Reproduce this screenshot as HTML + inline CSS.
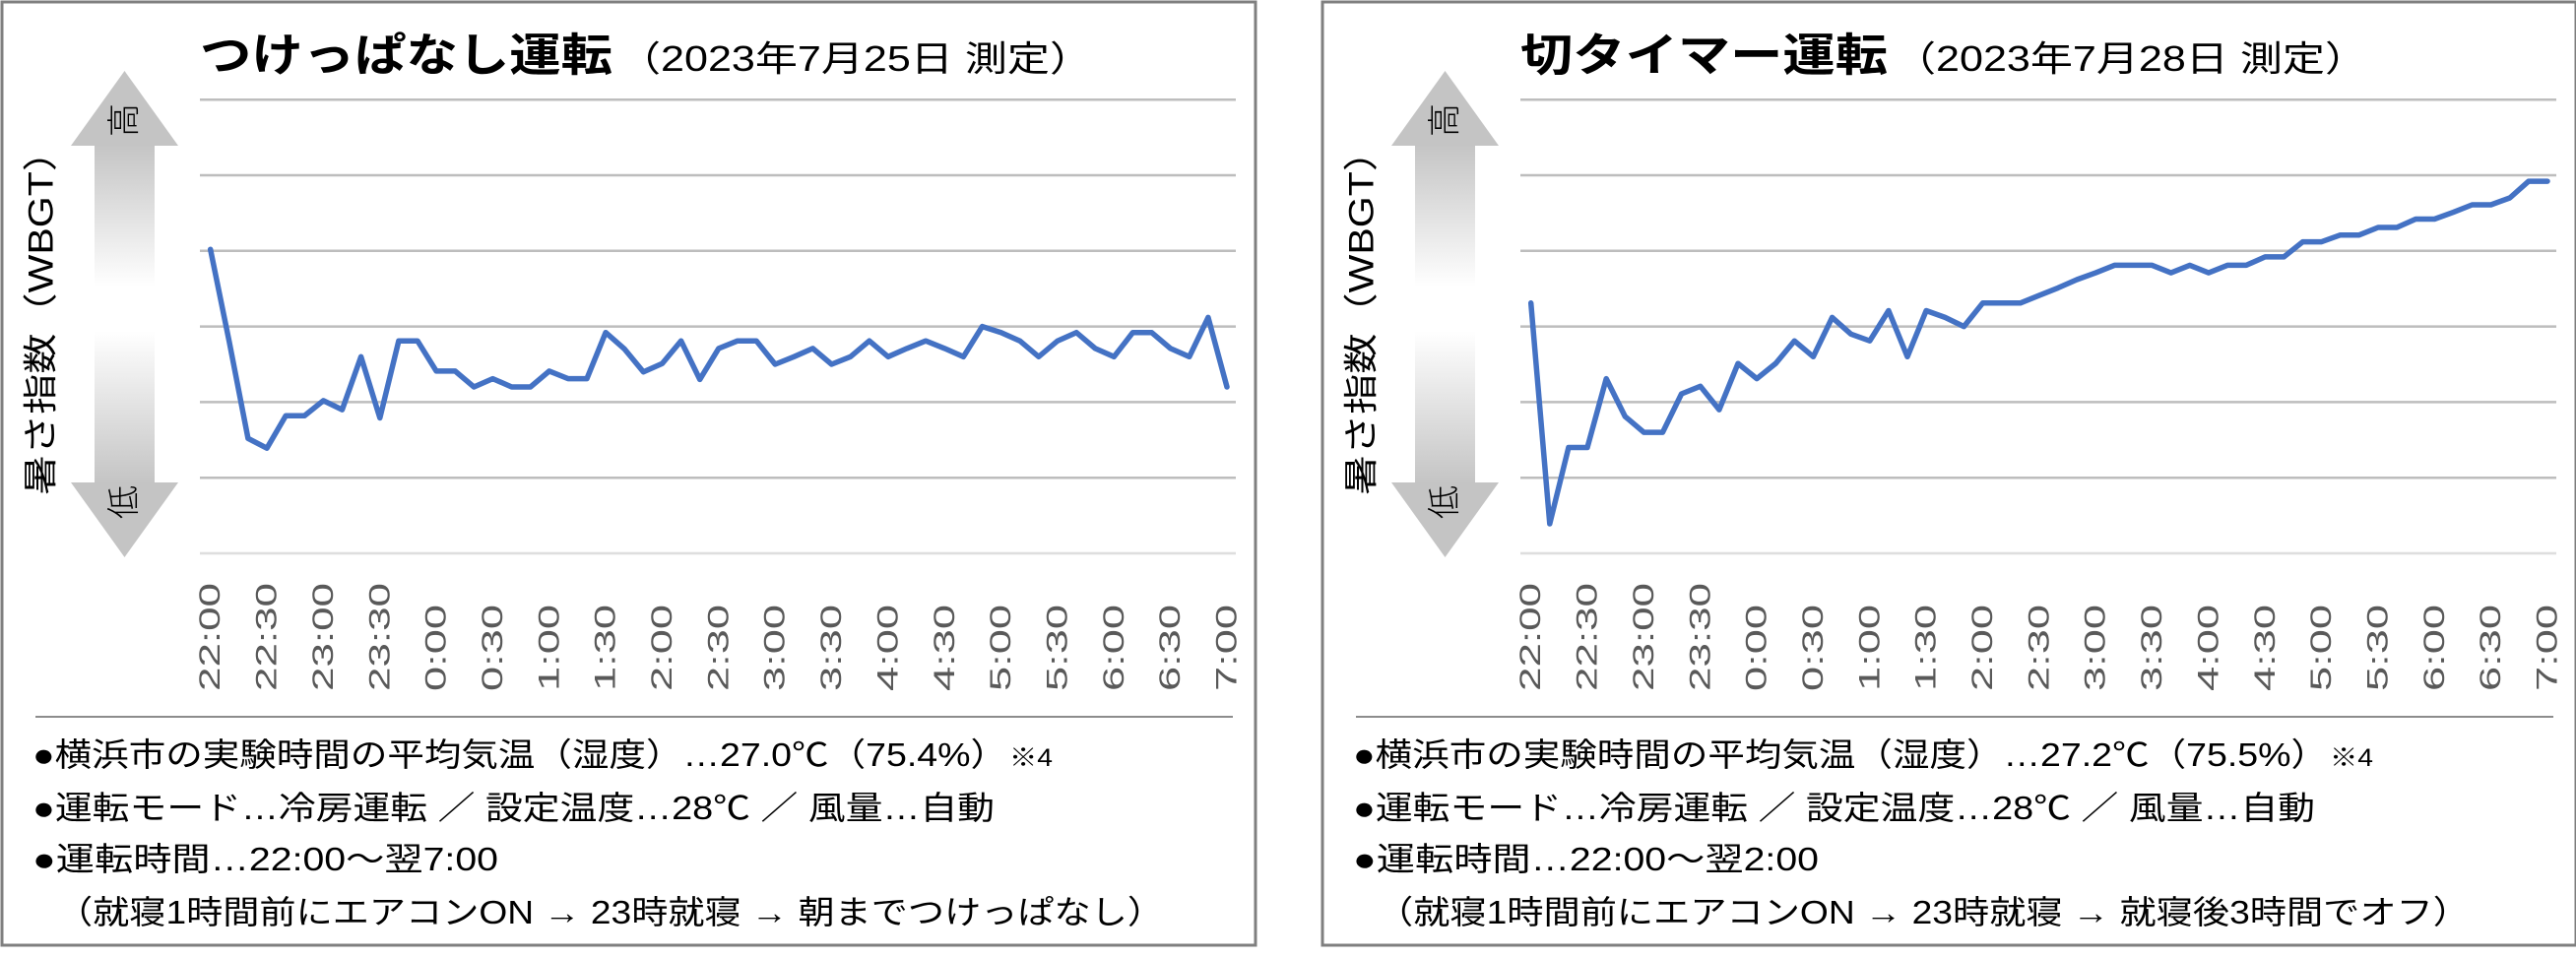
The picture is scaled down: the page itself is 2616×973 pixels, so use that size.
<!DOCTYPE html>
<html><head><meta charset="utf-8">
<style>
html,body{margin:0;padding:0;background:#fff;}
svg{display:block;}
text{font-family:"Liberation Sans","Noto Sans CJK JP",sans-serif;}
</style></head>
<body>
<svg id="root" width="2616" height="973" viewBox="0 0 2616 973" xmlns="http://www.w3.org/2000/svg">
<defs>
<linearGradient id="shaft" x1="0" y1="0" x2="0" y2="1">
<stop offset="0" stop-color="#c4c4c4"/>
<stop offset="0.42" stop-color="#ffffff"/>
<stop offset="0.55" stop-color="#ffffff"/>
<stop offset="1" stop-color="#c4c4c4"/>
</linearGradient>
</defs>
</svg>
<script>
const timeLabels = ["22:00","22:30","23:00","23:30","0:00","0:30","1:00","1:30","2:00","2:30","3:00","3:30","4:00","4:30","5:00","5:30","6:00","6:30","7:00"];
const leftValues = [4.02,2.8,1.52,1.39,1.82,1.82,2.02,1.9,2.6,1.79,2.81,2.81,2.41,2.41,2.2,2.31,2.2,2.2,2.41,2.31,2.31,2.92,2.7,2.4,2.51,2.81,2.3,2.71,2.81,2.81,2.5,2.6,2.71,2.5,2.6,2.81,2.6,2.71,2.81,2.71,2.6,3.0,2.92,2.81,2.6,2.81,2.92,2.71,2.6,2.92,2.92,2.71,2.6,3.12,2.2];
const rightValues = [3.31,0.39,1.4,1.4,2.31,1.81,1.6,1.6,2.11,2.21,1.9,2.51,2.31,2.51,2.81,2.6,3.12,2.9,2.81,3.21,2.6,3.21,3.12,3.0,3.31,3.31,3.31,3.41,3.51,3.62,3.71,3.81,3.81,3.81,3.71,3.81,3.71,3.81,3.81,3.92,3.92,4.12,4.12,4.21,4.21,4.31,4.31,4.42,4.42,4.51,4.61,4.61,4.7,4.92,4.92];
const gridLevels = [0,1,2,3,4,5,6];

const NS = "http://www.w3.org/2000/svg";
const root = document.getElementById('root');
function mk(tag, attrs, parent, txt){
  const e = document.createElementNS(NS, tag);
  for (const k in attrs) e.setAttribute(k, attrs[k]);
  if (txt !== undefined) e.textContent = txt;
  (parent || root).appendChild(e);
  return e;
}

function panel(off, title, titleEnd, sub, subEnd, values, lines, key){
  const g = mk('g', {transform:'translate(' + off + ',0)'});
  
  
  const border = mk('rect', {x:2, y:2, width:1273, height:958, fill:'#fff', stroke:'#7f7f7f', 'stroke-width':3}, g);
  
  

  const t = mk('text', {x:203, y:72, 'font-size':46, 'font-weight':'bold', fill:'#000', textLength:(titleEnd-203), lengthAdjust:'spacingAndGlyphs'}, g, title);
  
  
  const st = mk('text', {x:titleEnd+6, y:72, 'font-size':36, fill:'#000', textLength:(subEnd-titleEnd-6+10), lengthAdjust:'spacingAndGlyphs'}, g, sub);
  
  

  const x0 = 213.7, x1 = 1246;
  const xs = i => x0 + i * (x1 - x0) / (values.length - 1);
  const ys = v => 562 - v * 76.8;

  gridLevels.forEach(v => {
    const l = mk('line', {x1:203, x2:1255, y1:ys(v), y2:ys(v), stroke: v===0 ? '#dedede' : '#bdbdbd', 'stroke-width':2.5}, g);
    
    
  });

  const ar = mk('g', {}, g);
  
  
  mk('rect', {x:96, y:146, width:61, height:346, fill:'url(#shaft)'}, ar);
  mk('polygon', {points:'126.5,72 181,148 72,148', fill:'#c4c4c4'}, ar);
  mk('polygon', {points:'72,490 181,490 126.5,566', fill:'#c4c4c4'}, ar);
  const hi = mk('text', {x:126.5, y:122, 'font-size':34, fill:'#000', 'text-anchor':'middle', 'dominant-baseline':'central', transform:'rotate(-90 126.5 122)', 'font-weight':'300'}, ar, '高');
  
  
  const lo = mk('text', {x:126.5, y:510, 'font-size':34, fill:'#000', 'text-anchor':'middle', 'dominant-baseline':'central', transform:'rotate(-90 126.5 510)', 'font-weight':'300'}, ar, '低');
  
  

  const yt = mk('text', {x:0, y:0, 'font-size':35, fill:'#000', 'text-anchor':'middle', 'dominant-baseline':'central', transform:'translate(42,318) rotate(-90)', textLength:370, lengthAdjust:'spacingAndGlyphs'}, g, '暑さ指数（WBGT）');
  
  

  timeLabels.forEach((s, i) => {
    const x = xs(i * 3);
    const tl = mk('text', {x:0, y:0, 'font-size':30, fill:'#595959', 'dominant-baseline':'central', transform:'translate(' + x + ',702) rotate(-90)', textLength:s.length * 22, lengthAdjust:'spacingAndGlyphs'}, g, s);
    
    
  });

  const pts = values.map((v, i) => xs(i).toFixed(1) + ',' + ys(v).toFixed(1)).join(' ');
  const pl = mk('polyline', {points:pts, fill:'none', stroke:'#4472c4', 'stroke-width':5.5, 'stroke-linejoin':'round', 'stroke-linecap':'round'}, g);
  
  

  const sep = mk('line', {x1:36, x2:1252, y1:728, y2:728, stroke:'#8c8c8c', 'stroke-width':2}, g);
  
  

  const ny = [778, 832, 884, 938];
  lines.forEach((ln, i) => {
    const n = mk('text', {x:ln[1], y:ny[i], 'font-size':33, fill:'#000', textLength:ln[2], lengthAdjust:'spacingAndGlyphs'}, g, ln[0]);
    
    
  });
  const fn = mk('text', {x:lines[0][1] + lines[0][2] + 2, y:778, 'font-size':25, fill:'#000', textLength:44, lengthAdjust:'spacingAndGlyphs'}, g, '※4');
  
  
}

panel(0, 'つけっぱなし運転', 622, '（2023年7月25日 測定）', 1099, leftValues, [
  ['●横浜市の実験時間の平均気温（湿度）…27.0℃（75.4%）', 33, 990],
  ['●運転モード…冷房運転 ／ 設定温度…28℃ ／ 風量…自動', 33, 977],
  ['●運転時間…22:00〜翌7:00', 33, 473],
  ['（就寝1時間前にエアコンON → 23時就寝 → 朝までつけっぱなし）', 57, 1125]
], 'always-on');

panel(1341, '切タイマー運転', 576, '（2023年7月28日 測定）', 1053, rightValues, [
  ['●横浜市の実験時間の平均気温（湿度）…27.2℃（75.5%）', 33, 990],
  ['●運転モード…冷房運転 ／ 設定温度…28℃ ／ 風量…自動', 33, 977],
  ['●運転時間…22:00〜翌2:00', 33, 473],
  ['（就寝1時間前にエアコンON → 23時就寝 → 就寝後3時間でオフ）', 57, 1110]
], 'off-timer');
</script>
</body></html>
